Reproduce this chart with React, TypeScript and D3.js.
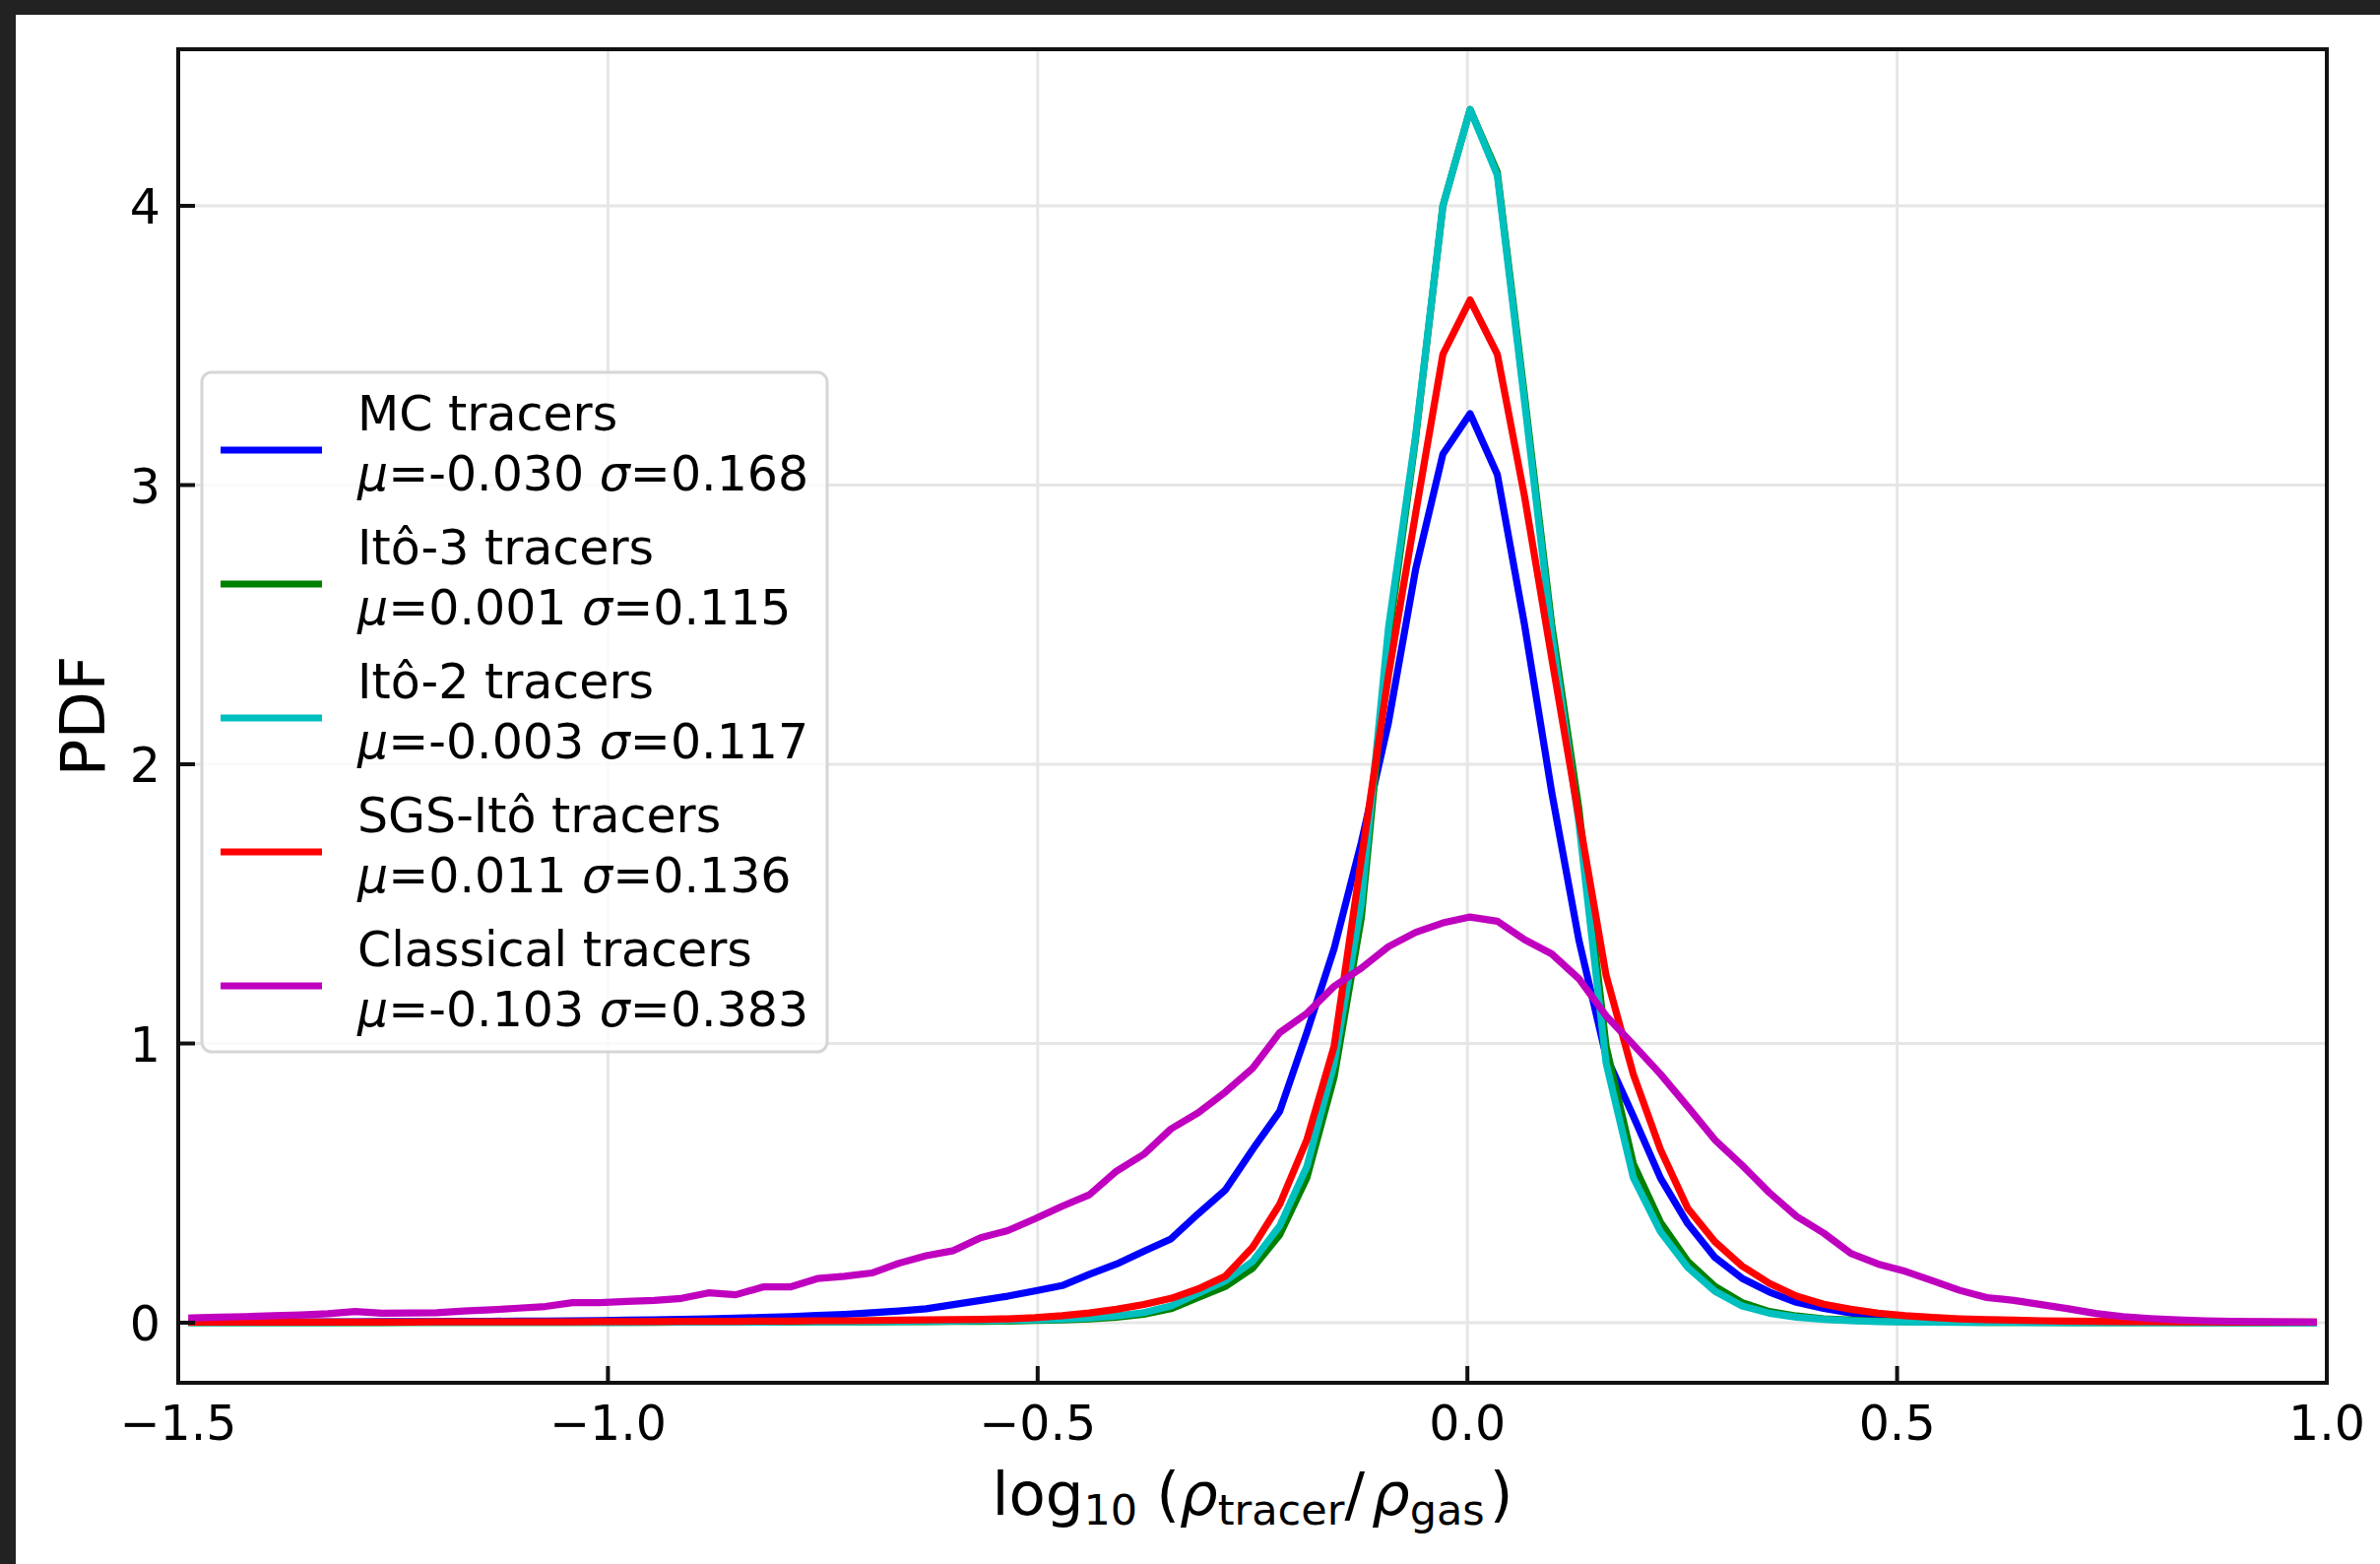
import React from 'react';
import * as d3 from 'd3';

// histogram bins: 79 equal bins on [-1.5, 1.0], values plotted at bin centres
const BIN_LO = -1.5;
const BIN_HI = 1.0;
const N_BINS = 79;

const mcTracers = [
  0.002, 0.002, 0.002, 0.003, 0.003, 0.003, 0.003, 0.004, 0.004, 0.004,
  0.005, 0.005, 0.006, 0.006, 0.007, 0.008, 0.009, 0.010, 0.012, 0.014,
  0.016, 0.019, 0.022, 0.026, 0.030, 0.036, 0.042, 0.050, 0.065, 0.080,
  0.095, 0.114, 0.133, 0.173, 0.210, 0.256, 0.300, 0.390, 0.475, 0.620,
  0.757, 1.04, 1.34, 1.72, 2.15, 2.70, 3.111, 3.256, 3.038, 2.50,
  1.90, 1.37, 0.954, 0.74, 0.518, 0.355, 0.234, 0.159, 0.110, 0.073,
  0.051, 0.035, 0.025, 0.017, 0.012, 0.009, 0.007, 0.005, 0.004, 0.003,
  0.003, 0.002, 0.002, 0.002, 0.001, 0.001, 0.001, 0.001, 0.001,
];

const ito3Tracers = [
  0.000, 0.000, 0.000, 0.000, 0.000, 0.000, 0.000, 0.000, 0.001, 0.001,
  0.001, 0.001, 0.001, 0.001, 0.001, 0.001, 0.001, 0.001, 0.002, 0.002,
  0.002, 0.002, 0.002, 0.003, 0.003, 0.003, 0.004, 0.004, 0.005, 0.005,
  0.006, 0.008, 0.010, 0.014, 0.020, 0.030, 0.050, 0.090, 0.130, 0.195,
  0.315, 0.520, 0.880, 1.45, 2.45, 3.17, 4.00, 4.345, 4.12, 3.32,
  2.50, 1.84, 0.99, 0.57, 0.36, 0.22, 0.13, 0.072, 0.040, 0.024,
  0.014, 0.009, 0.006, 0.004, 0.003, 0.002, 0.001, 0.001, 0.001, 0.000,
  0.000, 0.000, 0.000, 0.000, 0.000, 0.000, 0.000, 0.000, 0.000,
];

const ito2Tracers = [
  0.000, 0.000, 0.000, 0.000, 0.000, 0.000, 0.001, 0.001, 0.001, 0.001,
  0.001, 0.001, 0.001, 0.001, 0.001, 0.001, 0.001, 0.002, 0.002, 0.002,
  0.002, 0.002, 0.003, 0.003, 0.003, 0.004, 0.004, 0.005, 0.006, 0.007,
  0.008, 0.010, 0.013, 0.017, 0.024, 0.036, 0.060, 0.105, 0.150, 0.219,
  0.347, 0.560, 0.928, 1.50, 2.49, 3.18, 4.00, 4.345, 4.11, 3.30,
  2.47, 1.79, 0.93, 0.52, 0.326, 0.198, 0.113, 0.060, 0.034, 0.020,
  0.012, 0.007, 0.004, 0.003, 0.002, 0.001, 0.001, 0.001, 0.000, 0.000,
  0.000, 0.000, 0.000, 0.000, 0.000, 0.000, 0.000, 0.000, 0.000,
];

const sgsItoTracers = [
  0.002, 0.002, 0.002, 0.002, 0.002, 0.002, 0.002, 0.002, 0.002, 0.003,
  0.003, 0.003, 0.003, 0.003, 0.003, 0.004, 0.004, 0.004, 0.005, 0.005,
  0.005, 0.006, 0.006, 0.007, 0.007, 0.008, 0.009, 0.010, 0.011, 0.012,
  0.014, 0.018, 0.025, 0.035, 0.048, 0.065, 0.087, 0.121, 0.167, 0.270,
  0.424, 0.656, 0.99, 1.66, 2.32, 2.90, 3.469, 3.663, 3.469, 2.96,
  2.38, 1.81, 1.244, 0.89, 0.62, 0.41, 0.29, 0.203, 0.141, 0.095,
  0.066, 0.048, 0.034, 0.025, 0.019, 0.014, 0.011, 0.009, 0.007, 0.006,
  0.005, 0.004, 0.004, 0.003, 0.003, 0.002, 0.002, 0.002, 0.002,
];

const classicalTracers = [
  0.017, 0.020, 0.022, 0.025, 0.028, 0.032, 0.040, 0.034, 0.035, 0.036,
  0.042, 0.046, 0.052, 0.058, 0.072, 0.072, 0.076, 0.080, 0.087, 0.107,
  0.100, 0.128, 0.128, 0.158, 0.166, 0.178, 0.213, 0.240, 0.258, 0.304,
  0.330, 0.372, 0.417, 0.458, 0.543, 0.603, 0.694, 0.752, 0.826, 0.911,
  1.039, 1.108, 1.205, 1.270, 1.347, 1.398, 1.432, 1.453, 1.438, 1.372,
  1.321, 1.232, 1.099, 0.996, 0.890, 0.774, 0.655, 0.564, 0.466, 0.381,
  0.321, 0.248, 0.210, 0.184, 0.150, 0.116, 0.090, 0.080, 0.065, 0.050,
  0.033, 0.022, 0.015, 0.010, 0.007, 0.005, 0.004, 0.003, 0.002,
];

const seriesNames = ['MC tracers', 'Itô-3 tracers', 'Itô-2 tracers', 'SGS-Itô tracers', 'Classical tracers'];
const seriesMu = ['-0.030', '0.001', '-0.003', '0.011', '-0.103'];
const seriesSigma = ['0.168', '0.115', '0.117', '0.136', '0.383'];
const seriesColors = ['#0000ff', '#008000', '#00bfbf', '#ff0000', '#bf00bf'];
const seriesValues = [mcTracers, ito3Tracers, ito2Tracers, sgsItoTracers, classicalTracers];

const xTicks = [-1.5, -1.0, -0.5, 0.0, 0.5, 1.0];
const xTickLabels = ['\u22121.5', '\u22121.0', '\u22120.5', '0.0', '0.5', '1.0'];
const yTicks = [0, 1, 2, 3, 4];
const yTickLabels = ['0', '1', '2', '3', '4'];

const W = 2417;
const H = 1588;
const left = 181, right = 2363, top = 50, bottom = 1404;
const font = 'DejaVu Sans';

export default function App() {
  const x = d3.scaleLinear().domain([BIN_LO, BIN_HI]).range([left, right]);
  const y = d3.scaleLinear().domain([0, 4]).range([1343, 209]);
  const binW = (BIN_HI - BIN_LO) / N_BINS;
  const centres = d3.range(N_BINS).map(i => BIN_LO + (i + 0.5) * binW);

  const line = d3.line<number>()
    .x((_, i) => x(centres[i]))
    .y(d => y(d));

  const legX = 205, legY = 378, legW = 635, legH = 690;
  const entryGap = 136;

  return (
    <div style={{ position: 'absolute', left: 0, top: 0 }}>
      <svg width={W} height={H} style={{ display: 'block' }} fontFamily={font}>
        <rect x={0} y={0} width={W} height={H} fill="#222222" />
        <rect x={16} y={15} width={W - 16} height={H - 15} fill="#ffffff" />
        <defs>
          <clipPath id="plot">
            <rect x={left} y={top} width={right - left} height={bottom - top} />
          </clipPath>
        </defs>

        {/* grid */}
        <g stroke="#e6e6e6" strokeWidth={3}>
          {xTicks.map(t => (
            <line key={'gx' + t} x1={x(t)} x2={x(t)} y1={top} y2={bottom} />
          ))}
          {yTicks.map(t => (
            <line key={'gy' + t} x1={left} x2={right} y1={y(t)} y2={y(t)} />
          ))}
        </g>

        {/* curves */}
        <g clipPath="url(#plot)" fill="none" strokeWidth={7.2} strokeLinejoin="round" strokeLinecap="square">
          {seriesValues.map((vals, k) => (
            <path key={seriesNames[k]} d={line(vals) || ''} stroke={seriesColors[k]} />
          ))}
        </g>

        {/* frame and ticks */}
        <rect x={left} y={top} width={right - left} height={bottom - top} fill="none" stroke="#111" strokeWidth={4} />
        <g stroke="#111" strokeWidth={4}>
          {xTicks.map(t => (
            <line key={'tx' + t} x1={x(t)} x2={x(t)} y1={bottom} y2={bottom - 17} />
          ))}
          {yTicks.map(t => (
            <line key={'ty' + t} x1={left} x2={left + 17} y1={y(t)} y2={y(t)} />
          ))}
        </g>
        <g fontSize={49} fill="#000">
          {xTicks.map((t, i) => (
            <text key={'lx' + t} x={x(t)} y={1462} textAnchor="middle">{xTickLabels[i]}</text>
          ))}
          {yTicks.map((t, i) => (
            <text key={'ly' + t} x={163} y={y(t) + 18} textAnchor="end">{yTickLabels[i]}</text>
          ))}
        </g>

        {/* axis labels */}
        <text x={106} y={(top + bottom) / 2} fontSize={63} textAnchor="middle" transform={`rotate(-90 106 ${(top + bottom) / 2})`}>PDF</text>
        <text x={(left + right) / 2} y={1538} fontSize={61} textAnchor="middle">
          <tspan>log</tspan>
          <tspan fontSize={43} dy={10}>10</tspan>
          <tspan dy={-10} dx={19}>(</tspan>
          <tspan fontStyle="italic">ρ</tspan>
          <tspan fontSize={43} dy={10}>tracer</tspan>
          <tspan dy={-10}>/</tspan>
          <tspan fontStyle="italic" dx={7}>ρ</tspan>
          <tspan fontSize={43} dy={10}>gas</tspan>
          <tspan dy={-10} dx={5}>)</tspan>
        </text>

        {/* legend */}
        <rect x={legX} y={legY} width={legW} height={legH} rx={10} ry={10} fill="#ffffff" fillOpacity={0.8} stroke="#d6d6d6" strokeWidth={3} />
        {seriesNames.map((name, k) => {
          const hy = 457 + k * entryGap;
          const by = 437 + k * entryGap;
          return (
            <g key={'leg' + k}>
              <line x1={224} x2={327} y1={hy} y2={hy} stroke={seriesColors[k]} strokeWidth={7.2} />
              <text x={363} y={by} fontSize={49}>{name}</text>
              <text x={363} y={by + 61} fontSize={49}>
                <tspan fontStyle="italic">μ</tspan>={seriesMu[k]} <tspan fontStyle="italic">σ</tspan>={seriesSigma[k]}
              </text>
            </g>
          );
        })}
      </svg>
    </div>
  );
}
